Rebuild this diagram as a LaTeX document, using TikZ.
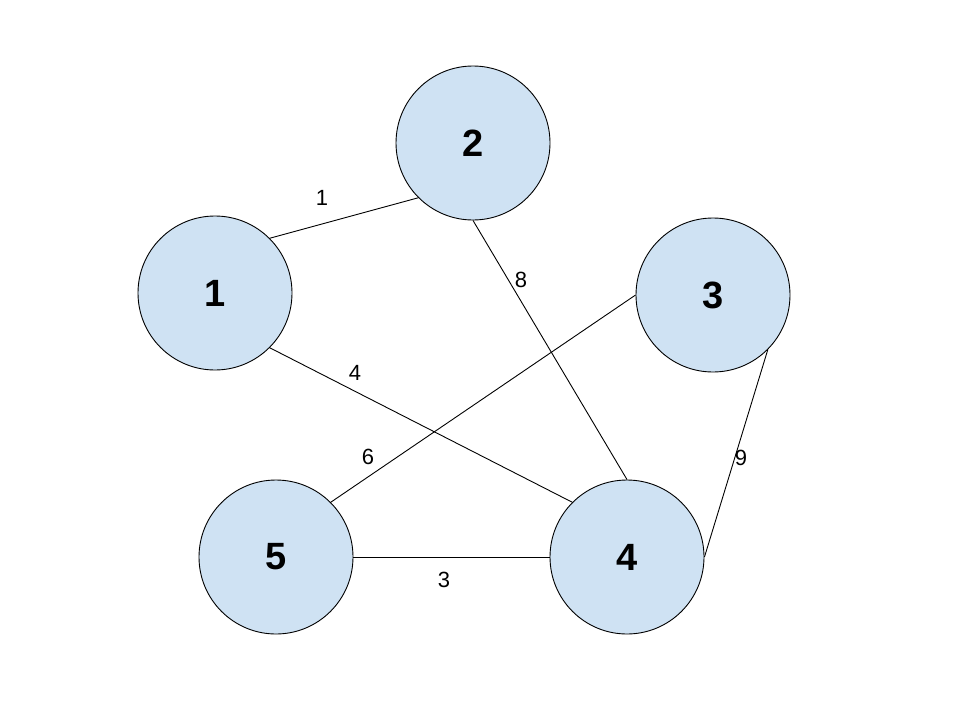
\documentclass[tikz,border=0pt]{standalone}
\usepackage{fontspec}
\setmainfont{Liberation Sans}
\definecolor{nodefill}{HTML}{CFE2F3}
\begin{document}
\begin{tikzpicture}[x=1pt,y=-1pt,
  vertex/.style={circle,draw=black,line width=0.9pt,fill=nodefill,minimum size=154pt,inner sep=0pt,font=\fontsize{38}{40}\selectfont\bfseries},
  edge/.style={draw=black,line width=0.9pt},
  wlabel/.style={font=\fontsize{22}{24}\selectfont,inner sep=0pt}]
\useasboundingbox (0,0) rectangle (960,720);
\fill[white] (0,0) rectangle (960,720);
\node[vertex] (n1) at (215,293) {1};
\node[vertex] (n2) at (473,143) {2};
\node[vertex] (n3) at (713,295) {3};
\node[vertex] (n4) at (627,557) {4};
\node[vertex] (n5) at (276,557) {5};
\draw[edge] (n1.45) -- (n2.225);
\draw[edge] (n2.south) -- (n4.north);
\draw[edge] (n1.-45) -- (n4.135);
\draw[edge] (n3.west) -- (n5.45);
\draw[edge] (n3.-45) -- (n4.east);
\draw[edge] (n5.east) -- (n4.west);
\node[wlabel] (l1) at (322,198) {1};
\node[wlabel] (l8) at (521,280) {8};
\node[wlabel] (l4) at (355,373) {4};
\node[wlabel] (l6) at (368,457) {6};
\node[wlabel] (l9) at (741,458) {9};
\node[wlabel] (l3) at (444,580) {3};
\end{tikzpicture}
\end{document}
